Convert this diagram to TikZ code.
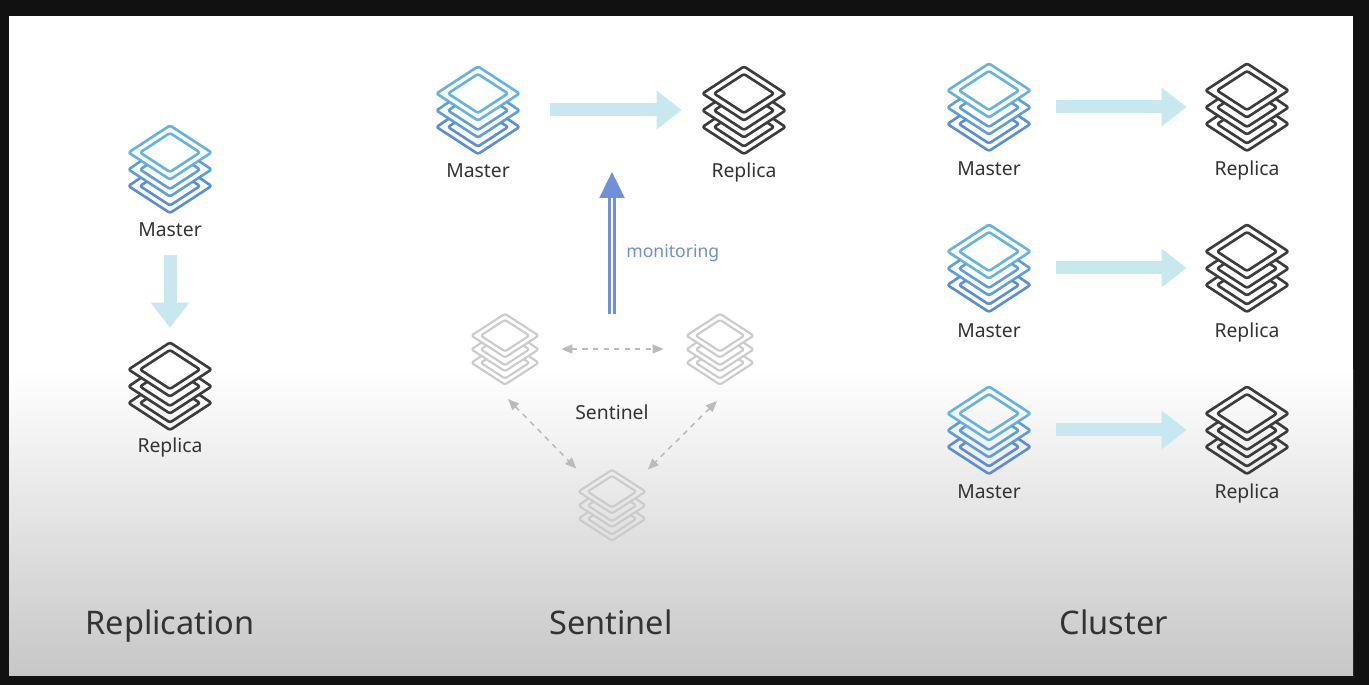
\documentclass[tikz,border=0pt]{standalone}
\usepackage{fontspec}
\setmainfont{Noto Sans}
\usetikzlibrary{arrows.meta}
\definecolor{frame}{HTML}{111111}
\definecolor{textgray}{HTML}{333333}
\definecolor{blueA}{HTML}{66B4DC}
\definecolor{blueB}{HTML}{5F9FD8}
\definecolor{blueC}{HTML}{5B8ED4}
\definecolor{stackdark}{HTML}{3C3C3C}
\definecolor{stackpale}{HTML}{CBCBCB}
\definecolor{flowcyan}{HTML}{C6E8EE}
\definecolor{monitorblue}{HTML}{7090DC}
\definecolor{linkgray}{HTML}{BBBBBB}
\tikzset{
  stackline/.style={line width=1.5pt, line join=round, rounded corners=1.2pt},
  % one layer hangs below the one above it
  pics/stack/.style args={#1/#2/#3}{code={
    \draw[stackline, #1] (-41.5,-16.5) -- (0,-43.5) -- (41.5,-16.5) -- (0,10.5) -- cycle;
    \draw[stackline, #1] (-30,-16.5) -- (0,-36) -- (30,-16.5) -- (0,3) -- cycle;
    \foreach \dy/\col in {0.5/#2, 17/#3} {
      \draw[stackline, \col] (-29,\dy-8.5) -- (-41.5,\dy) -- (0,\dy+27) -- (41.5,\dy) -- (29,\dy-8.5);
      \draw[stackline, \col] (-23,\dy-4.5) -- (-30,\dy) -- (0,\dy+19.5) -- (30,\dy) -- (23,\dy-4.5);
    }
  }},
  iconbox/.style={inner sep=0pt, minimum width=1.64cm, minimum height=1.76cm},
  smallbox/.style={inner sep=0pt, minimum width=1.36cm, minimum height=1.42cm},
  tag/.style={font=\fontsize{11pt}{13pt}\selectfont, text=textgray, inner sep=0pt, text height=8pt, text depth=2.5pt},
  title/.style={font=\fontsize{18.5pt}{22pt}\selectfont, text=textgray, inner sep=0pt, text height=14pt, text depth=4pt},
  flow/.style={draw=flowcyan, line width=0.26cm, -{Triangle[length=0.5cm, width=0.74cm]}},
  link/.style={draw=linkgray, line width=0.9pt, dashed, {Triangle[length=0.22cm, width=0.18cm]}-{Triangle[length=0.22cm, width=0.18cm]}},
}
\begin{document}
\begin{tikzpicture}[x=0.02cm, y=-0.02cm]
  % frame and panel
  \fill[frame] (0,0) rectangle (1369,685);
  \fill[white] (9,16) rectangle (1353,675);
  \shade[top color=white, bottom color=black!22] (9,370) rectangle (1353,675);
  \useasboundingbox (0,0) rectangle (1369,685);

  % replication
  \node[iconbox] (repMaster) at (170,169) {};
  \pic at (repMaster) {stack={blueA/blueB/blueC}};
  \node[tag] (repMasterTag) at (170,231.5) {Master};
  \node[iconbox] (repReplica) at (170,386) {};
  \pic at (repReplica) {stack={stackdark/stackdark/stackdark}};
  \node[tag] (repReplicaTag) at (170,447.5) {Replica};
  \draw[flow, shorten <=0.28cm, shorten >=0.28cm] (repMasterTag) -- (repReplica);
  \node[title] (repTitle) at (170,626) {Replication};

  % sentinel
  \node[iconbox] (senMaster) at (478,110) {};
  \pic at (senMaster) {stack={blueA/blueB/blueC}};
  \node[tag] (senMasterTag) at (478,172.5) {Master};
  \node[iconbox] (senReplica) at (744,110) {};
  \pic at (senReplica) {stack={stackdark/stackdark/stackdark}};
  \node[tag] (senReplicaTag) at (744,172.5) {Replica};
  \draw[flow, shorten <=0.62cm, shorten >=0.42cm] (senMaster) -- (senReplica);

  \begin{scope}[stackline/.append style={line width=1.2pt}]
    \node[smallbox] (watchA) at (505,349) {};
    \pic[scale=0.81] at (watchA) {stack={stackpale/stackpale/stackpale}};
    \node[smallbox] (watchB) at (720,349) {};
    \pic[scale=0.81] at (watchB) {stack={stackpale/stackpale/stackpale}};
    \node[smallbox] (watchC) at (612,505) {};
    \pic[scale=0.81] at (watchC) {stack={stackpale/stackpale/stackpale}};
  \end{scope}
  \node[tag] (senTag) at (612,414.5) {Sentinel};
  \coordinate (linkA) at (508,399);
  \coordinate (linkB) at (717,401);
  \draw[link, shorten <=0.44cm, shorten >=0.44cm] (watchA) -- (watchB);
  \draw[link, shorten >=0.04cm] (linkA) -- (watchC);
  \draw[link, shorten >=0.04cm] (linkB) -- (watchC);

  \coordinate (monitorEnd) at (612,172);
  \coordinate (monitorStart) at (612,314);
  \draw[draw=monitorblue, double=white, line width=1.4pt, double distance=1.5pt,
    -{Triangle[length=0.52cm, width=0.5cm, fill=monitorblue]}] (monitorStart) -- (monitorEnd);
  \node[tag, font=\fontsize{10pt}{12pt}\selectfont, text=monitorblue!85!gray, anchor=west] (monitorTag) at (626,252.5) {monitoring};
  \node[title] (senTitle) at (611,626) {Sentinel};

  % cluster
  \foreach \row/\cy/\ty in {A/107/170.5, B/268/332.5, C/430/494} {
    \node[iconbox] (cluMaster\row) at (989,\cy) {};
    \pic at (cluMaster\row) {stack={blueA/blueB/blueC}};
    \node[tag] (cluMasterTag\row) at (989,\ty) {Master};
    \node[iconbox] (cluReplica\row) at (1247,\cy) {};
    \pic at (cluReplica\row) {stack={stackdark/stackdark/stackdark}};
    \node[tag] (cluReplicaTag\row) at (1247,\ty) {Replica};
    \draw[flow, shorten <=0.52cm, shorten >=0.38cm] (cluMaster\row) -- (cluReplica\row);
  }
  \node[title] (cluTitle) at (1114,626) {Cluster};
\end{tikzpicture}
\end{document}
